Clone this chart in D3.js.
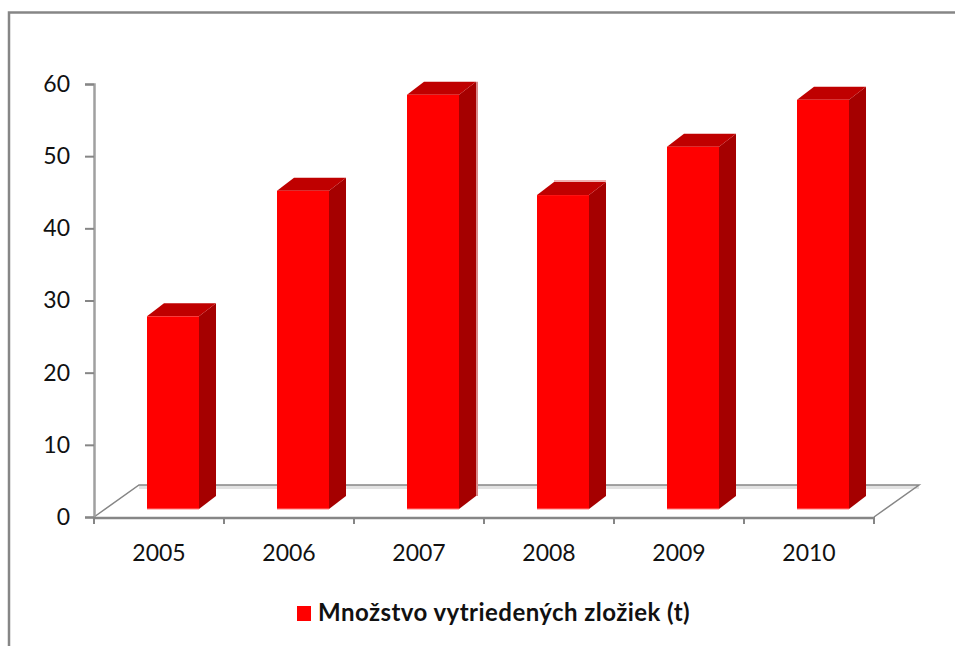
<!DOCTYPE html>
<html>
<head>
<meta charset="utf-8">
<script src="https://cdn.jsdelivr.net/npm/d3@7"></script>
<style>
  html, body { margin: 0; padding: 0; background: #fff; }
  svg { display: block; }
  text { font-family: Lato, "Open Sans", sans-serif; fill: #111; }
</style>
</head>
<body>
<svg id="chart" width="955" height="646"></svg>
<script>
const years = ['2005', '2006', '2007', '2008', '2009', '2010'];
const amounts = [26.7, 44.1, 57.4, 43.5, 50.2, 56.7];
const yTicks = [0, 10, 20, 30, 40, 50, 60];
const legendLabel = 'Množstvo vytriedených zložiek (t)';

const svg = d3.select('#chart');
const grey = '#868686';

// outer frame, only top and left are visible in the picture
svg.append('path')
  .attr('d', 'M9,646V12.5H955')
  .attr('fill', 'none')
  .attr('stroke', grey)
  .attr('stroke-width', 2.5);

const xScale = d3.scaleBand()
  .domain(years)
  .range([94, 874])
  .paddingInner(0.6)
  .paddingOuter(0.3);

const yScale = d3.scaleLinear()
  .domain([0, 60])
  .range([517, 84]);

// floor depth and the place of the bars inside of it
const depth = { x: 45, y: 32 };
const barShift = { x: 14, y: 8 };
const side = { x: 17, y: 13 };

const y0 = yScale(0);
const xEnd = xScale.range()[1];
const xStart = xScale.range()[0];

// floor
svg.append('rect')
  .attr('x', xStart + depth.x)
  .attr('y', y0 - depth.y)
  .attr('width', xEnd - xStart)
  .attr('height', 4)
  .attr('fill', '#e2e2e2');

svg.append('path')
  .attr('d', `M${xStart},${y0}L${xStart + depth.x},${y0 - depth.y}H${xEnd + depth.x}L${xEnd},${y0}`)
  .attr('fill', 'none')
  .attr('stroke', grey)
  .attr('stroke-width', 1.5);

// bars
const bars = svg.append('g')
  .selectAll('g')
  .data(years.map((y, i) => ({ year: y, value: amounts[i] })))
  .enter()
  .append('g');

const barLeft = (d) => xScale(d.year) + barShift.x;
const barRight = (d) => barLeft(d) + xScale.bandwidth();
const barTop = (d) => yScale(d.value) - barShift.y;
const barBottom = y0 - barShift.y;

bars.append('path')
  .attr('fill', '#a50000')
  .attr('d', (d) => `M${barRight(d)},${barTop(d)}l${side.x},${-side.y}V${barBottom - side.y}L${barRight(d)},${barBottom}Z`);

bars.append('path')
  .attr('fill', '#bf0000')
  .attr('d', (d) => `M${barLeft(d)},${barTop(d)}l${side.x},${-side.y}H${barRight(d) + side.x}L${barRight(d)},${barTop(d)}Z`);

bars.append('rect')
  .attr('x', barLeft)
  .attr('y', barTop)
  .attr('width', xScale.bandwidth())
  .attr('height', (d) => barBottom - barTop(d))
  .attr('fill', '#ff0000');

// pale edge at the foot of each bar
bars.append('line')
  .attr('x1', barLeft)
  .attr('x2', barRight)
  .attr('y1', barBottom)
  .attr('y2', barBottom)
  .attr('stroke', '#ff8080')
  .attr('stroke-width', 1);

// pale edges the screenshot has on 2007 (right) and 2008 (top)
bars.filter((d) => d.year === '2007')
  .append('line')
  .attr('x1', (d) => barRight(d) + side.x + 1)
  .attr('x2', (d) => barRight(d) + side.x + 1)
  .attr('y1', (d) => barTop(d) - side.y)
  .attr('y2', barBottom - side.y)
  .attr('stroke', '#d88a8a')
  .attr('stroke-width', 2);

bars.filter((d) => d.year === '2008')
  .append('line')
  .attr('x1', (d) => barLeft(d) + side.x)
  .attr('x2', (d) => barRight(d) + side.x)
  .attr('y1', (d) => barTop(d) - side.y - 1)
  .attr('y2', (d) => barTop(d) - side.y - 1)
  .attr('stroke', '#f0b0b0')
  .attr('stroke-width', 2);

// axes
const yAxis = d3.axisLeft(yScale)
  .tickValues(yTicks)
  .tickSize(9)
  .tickPadding(15);

const gy = svg.append('g')
  .attr('transform', `translate(${xStart},0)`)
  .call(yAxis);

const xTicks = d3.range(0, years.length + 1).map((i) => xStart + i * xScale.step());

svg.append('line')
  .attr('x1', xStart - 1)
  .attr('x2', xEnd)
  .attr('y1', y0 + 1)
  .attr('y2', y0 + 1)
  .attr('stroke', grey)
  .attr('stroke-width', 2.5);

svg.append('g')
  .selectAll('line')
  .data(xTicks)
  .enter()
  .append('line')
  .attr('x1', (d) => d)
  .attr('x2', (d) => d)
  .attr('y1', y0)
  .attr('y2', y0 + 7)
  .attr('stroke', grey)
  .attr('stroke-width', 2);

gy.select('.domain').attr('stroke', '#a0a0a0').attr('stroke-width', 2.5);
gy.selectAll('.tick line').attr('stroke', grey).attr('stroke-width', 2);
gy.selectAll('text').attr('font-size', 23).attr('font-family', 'Lato').attr('fill', '#111');

svg.append('g')
  .selectAll('text')
  .data(years)
  .enter()
  .append('text')
  .attr('x', (d) => xScale(d) + xScale.bandwidth() / 2)
  .attr('y', 561)
  .attr('text-anchor', 'middle')
  .attr('font-size', 23)
  .text((d) => d);

// legend
svg.append('rect')
  .attr('x', 297)
  .attr('y', 606)
  .attr('width', 14)
  .attr('height', 15)
  .attr('fill', '#ff0000');

svg.append('text')
  .attr('x', 318)
  .attr('y', 621)
  .attr('font-size', 24)
  .attr('font-weight', 700)
  .attr('letter-spacing', 0.45)
  .text(legendLabel);
</script>
</body>
</html>
